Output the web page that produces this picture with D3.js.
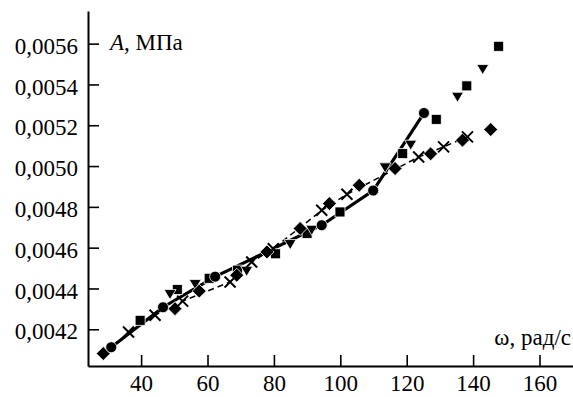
<!DOCTYPE html>
<html><head><meta charset="utf-8">
<script src="https://cdn.jsdelivr.net/npm/d3@7/dist/d3.min.js"></script>
<style>body{margin:0;background:#fff}svg{display:block}</style>
</head><body><svg id="c" width="573" height="397"></svg>
<script>
const xTicks = [40, 60, 80, 100, 120, 140, 160];
const yTicks = [0.0042, 0.0044, 0.0046, 0.0048, 0.0050, 0.0052, 0.0054, 0.0056];
const circles = [[31,0.004112],[46.6,0.004308],[62.3,0.004458],[94.4,0.00471],[109.9,0.00488],[125.2,0.00526]];
const squares = [[39.7,0.004244],[50.9,0.004395],[60.5,0.00445],[69,0.00449],[80.5,0.00457],[90,0.00467],[99.9,0.004775],[118.8,0.005061],[128.9,0.005229],[138.1,0.005393],[147.7,0.005587]];
const triangles = [[48.7,0.004375],[56.3,0.004424],[71.8,0.004489],[84.9,0.00462],[91.4,0.00469],[113.5,0.004996],[121.2,0.005107],[135.3,0.005342],[142.9,0.005478]];
const crosses = [[36.2,0.004187],[44.2,0.004269],[52.5,0.004338],[66.8,0.004432],[73.3,0.00453],[79.8,0.004595],[94.4,0.004783],[102,0.004862],[123.6,0.005044],[131.1,0.005094],[138.3,0.005143]];
const diamonds = [[28.6,0.004081],[50.2,0.004301],[57.5,0.004387],[68.8,0.004465],[77.9,0.004579],[87.9,0.004694],[96.7,0.004816],[105.7,0.004906],[116.5,0.004988],[127.2,0.00506],[136.8,0.005127],[145.3,0.005179]];
const yLabel = "МПа";
const xLabel = "ω, рад/с";

const FONT = "'Liberation Serif', 'DejaVu Serif', serif";
const svg = d3.select("#c");
const x = d3.scaleLinear().domain([24, 170]).range([88, 572.7]);
const y = d3.scaleLinear().domain([0.00402, 0.00576]).range([366, 11]);
const fmt = v => d3.format(".4f")(v).replace(".", ",");

const gx = svg.append("g").attr("transform", `translate(0,${y.range()[0]})`)
  .call(d3.axisBottom(x).tickValues(xTicks).tickSizeInner(-11).tickSizeOuter(0).tickPadding(9));
const gy = svg.append("g").attr("transform", `translate(${x.range()[0]},0)`)
  .call(d3.axisLeft(y).tickValues(yTicks).tickFormat(fmt).tickSizeInner(-11).tickSizeOuter(0).tickPadding(10));
[gx, gy].forEach(g => {
  g.attr("font-family", null).attr("font-size", null);
  g.select(".domain").attr("stroke", "#000").attr("stroke-width", 2);
  g.selectAll(".tick line").attr("stroke", "#000").attr("stroke-width", 1.6);
  g.selectAll(".tick text").attr("fill", "#000")
    .style("font-family", FONT).style("font-size", "23px");
});
gy.selectAll(".tick text").attr("dy", "0.42em");

// lines
const line = d3.line().x(d => x(d[0])).y(d => y(d[1]));
svg.append("path").datum(crosses).attr("d", line).attr("fill", "none")
  .attr("stroke", "#000").attr("stroke-width", 1.5).attr("stroke-dasharray", "6,4");
svg.append("path").datum(circles).attr("d", line).attr("fill", "none")
  .attr("stroke", "#000").attr("stroke-width", 3.2);

const g = svg.append("g");
g.selectAll(".sq").data(squares).join("rect")
  .attr("x", d => x(d[0]) - 5).attr("y", d => y(d[1]) - 5).attr("width", 10).attr("height", 10)
  .attr("fill", "#000").attr("stroke", "#fff").attr("stroke-width", 0.8);
g.selectAll(".tr").data(triangles).join("path")
  .attr("d", d => { const cx = x(d[0]), cy = y(d[1]); return `M${cx-6},${cy-4}L${cx+6},${cy-4}L${cx},${cy+6}Z`; })
  .attr("fill", "#000").attr("stroke", "#fff").attr("stroke-width", 0.8);
g.selectAll(".dm").data(diamonds).join("path")
  .attr("d", d => { const cx = x(d[0]), cy = y(d[1]); return `M${cx},${cy-7}L${cx+7},${cy}L${cx},${cy+7}L${cx-7},${cy}Z`; })
  .attr("fill", "#000").attr("stroke", "#fff").attr("stroke-width", 0.8);
g.selectAll(".ci").data(circles).join("circle")
  .attr("cx", d => x(d[0])).attr("cy", d => y(d[1])).attr("r", 5.5)
  .attr("fill", "#000").attr("stroke", "#fff").attr("stroke-width", 0.8);
g.selectAll(".cr").data(crosses).join("path")
  .attr("d", d => { const cx = x(d[0]), cy = y(d[1]); return `M${cx-5.5},${cy-5.5}L${cx+5.5},${cy+5.5}M${cx+5.5},${cy-5.5}L${cx-5.5},${cy+5.5}`; })
  .attr("fill", "none").attr("stroke", "#000").attr("stroke-width", 2);

// axis titles
const t1 = svg.append("text").attr("x", 110).attr("y", 50).style("font-family", FONT).style("font-size", "23px").attr("fill", "#000");
t1.append("tspan").style("font-style", "italic").text("A");
t1.append("tspan").text(", " + yLabel);
svg.append("text").attr("x", 571).attr("y", 345).attr("text-anchor", "end").style("font-family", FONT).style("font-size", "23px").attr("fill", "#000").text(xLabel);
</script></body></html>
